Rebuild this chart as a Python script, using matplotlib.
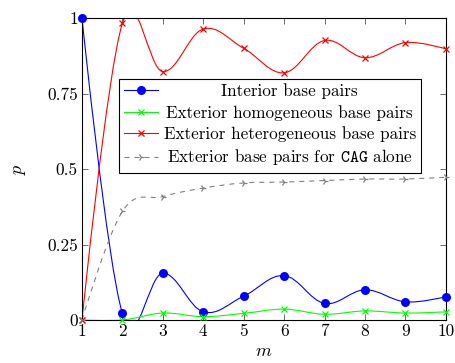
import numpy as np
import matplotlib
matplotlib.use("Agg")
import matplotlib.pyplot as plt
from matplotlib.path import Path
from matplotlib.patches import PathPatch
from matplotlib.lines import Line2D

plt.rcParams['font.family'] = 'serif'
plt.rcParams['font.serif'] = ['cmr10']
plt.rcParams['mathtext.fontset'] = 'cm'
plt.rcParams['axes.formatter.use_mathtext'] = True

m = [1, 2, 3, 4, 5, 6, 7, 8, 9, 10]
interior = [1.0, 0.022, 0.155, 0.027, 0.079, 0.147, 0.055, 0.10, 0.06, 0.077]
ext_homog = [0.0, 0.0, 0.023, 0.011, 0.022, 0.036, 0.019, 0.030, 0.023, 0.027]
ext_hetero = [0.0, 0.983, 0.823, 0.964, 0.90, 0.819, 0.926, 0.869, 0.919, 0.898]
ext_cag = [0.0, 0.36, 0.409, 0.437, 0.454, 0.457, 0.462, 0.467, 0.467, 0.473]

labels = ['Interior base pairs', 'Exterior homogeneous base pairs',
          'Exterior heterogeneous base pairs',
          r'Exterior base pairs for $\mathtt{CAG}$ alone']
yticks = [0, 0.25, 0.5, 0.75, 1]
yticklabels = ['0', '0.25', '0.5', '0.75', '1']


def smooth_path(x, y, k=0.55 / 3):
    p = np.column_stack([x, y]).astype(float)
    n = len(p)
    verts = [p[0]]
    codes = [Path.MOVETO]
    for i in range(n - 1):
        if i == 0:
            c1 = p[0]
        else:
            c1 = p[i] + k * (p[i + 1] - p[i - 1])
        if i + 1 == n - 1:
            c2 = p[n - 1]
        else:
            c2 = p[i + 1] - k * (p[i + 2] - p[i])
        verts += [c1, c2, p[i + 1]]
        codes += [Path.CURVE4] * 3
    return Path(np.array(verts), codes)


fig = plt.figure(figsize=(4.55, 3.63), dpi=100)
ax = fig.add_axes([0.1802, 0.1185, 0.7998, 0.8315])

lw = 0.8
styles = [
    dict(color='#0000ff', marker='o', ms=6.5, mew=0, dashes=None),
    dict(color='#00ff00', marker='x', ms=3.8, mew=0.9, dashes=None),
    dict(color='#ff0000', marker='x', ms=3.8, mew=0.9, dashes=None),
    dict(color='#808080', marker='4', ms=5.0, mew=0.9, dashes=(4.5, 4.5)),
]
series = [interior, ext_homog, ext_hetero, ext_cag]
handles = []
for ys, st, lab in zip(series, styles, labels):
    path = smooth_path(m, ys)
    patch = PathPatch(path, facecolor='none', edgecolor=st['color'], lw=lw,
                      zorder=2)
    if st['dashes'] is not None:
        patch.set_linestyle((0, st['dashes']))
    ax.add_patch(patch)
    ax.plot(m, ys, linestyle='none', marker=st['marker'], ms=st['ms'],
            mew=st['mew'], color=st['color'], zorder=3, clip_on=False)
    h = Line2D([], [], color=st['color'], lw=lw, marker=st['marker'],
               ms=st['ms'], mew=st['mew'])
    if st['dashes'] is not None:
        h.set_dashes(st['dashes'])
    handles.append(h)

ax.set_xlim(1, 10)
ax.set_ylim(0, 1)
ax.set_xticks(m)
ax.set_xticklabels([str(v) for v in m])
ax.set_yticks(yticks)
ax.set_yticklabels(yticklabels)
ax.tick_params(direction='in', top=True, right=True, length=4, width=0.6,
               labelsize=12.5, pad=3, color='#555555')
for s in ax.spines.values():
    s.set_linewidth(0.8)
ax.set_xlabel(r'$m$', fontsize=13, labelpad=3)
ax.set_ylabel(r'$p$', fontsize=13, labelpad=14)

leg = ax.legend(handles, labels, loc='upper left',
                bbox_to_anchor=(0.102, 0.80), fontsize=12.3,
                fancybox=False, framealpha=1, edgecolor='black',
                handlelength=2.0, handletextpad=0.3, borderpad=0.3,
                labelspacing=0.32, borderaxespad=0)
leg.get_frame().set_linewidth(0.8)

fig.canvas.draw()
r = fig.canvas.get_renderer()
widths = [t.get_window_extent(r).width for t in leg.get_texts()]
mw = max(widths)
for t, w in zip(leg.get_texts(), widths):
    t.set_x((mw - w) / 2)

fig.savefig('out.png', dpi=100)
